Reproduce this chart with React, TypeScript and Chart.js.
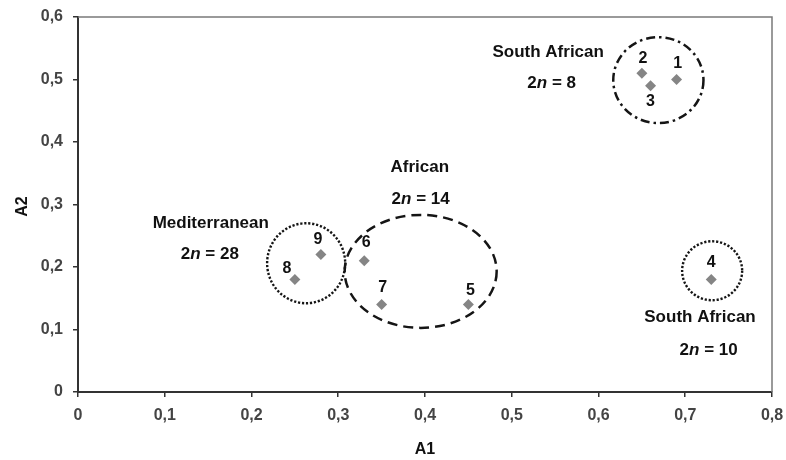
import React, { useEffect, useRef } from 'react';
import { Chart, registerables } from 'chart.js';

Chart.register(...registerables);

// Accessions (point numbers) and their coordinates on the first two axes
const pointIds = ['1', '2', '3', '4', '5', '6', '7', '8', '9'];
const a1Values = [0.69, 0.65, 0.66, 0.73, 0.45, 0.33, 0.35, 0.25, 0.28];
const a2Values = [0.5, 0.51, 0.49, 0.18, 0.14, 0.21, 0.14, 0.18, 0.22];

// Axis ticks
const xTicks = [0, 0.1, 0.2, 0.3, 0.4, 0.5, 0.6, 0.7, 0.8];
const yTicks = [0, 0.1, 0.2, 0.3, 0.4, 0.5, 0.6];

// Groups (ellipses) in data coordinates
const groupNames = ['South African', 'African', 'Mediterranean', 'South African'];
const groupChromosomes = ['8', '14', '28', '10'];
const groupCenterA1 = [0.669, 0.395, 0.263, 0.731];
const groupCenterA2 = [0.499, 0.193, 0.206, 0.194];
const groupRadiusA1 = [0.052, 0.0876, 0.045, 0.0346];
const groupRadiusA2 = [0.0688, 0.0904, 0.064, 0.0472];
const groupLabelA1 = [0.542, 0.394, 0.153, 0.717];
const groupLabelA2 = [0.543, 0.36, 0.27, 0.12];
const groupCountA1 = [0.546, 0.395, 0.152, 0.727];
const groupCountA2 = [0.494, 0.309, 0.221, 0.067];

// styles
const groupDash: number[][] = [[9, 4, 2.5, 4], [10, 6], [2.2, 1.8], [2.2, 1.8]];
const pointLabelOffset: [number, number][] = [
  [1, -16], [1, -15], [0, 16], [0, -17], [2, -14], [2, -18], [1, -17], [-8, -11], [-3, -15],
];

const FONT = '"Liberation Sans", Arial, sans-serif';

const fmt = (v: number) => (v === 0 ? '0' : v.toFixed(1).replace('.', ','));

const annotPlugin = {
  id: 'annot',
  beforeDatasetsDraw(chart: any) {
    const { ctx, chartArea } = chart;
    ctx.save();
    ctx.strokeStyle = '#7a7a7a';
    ctx.lineWidth = 1.5;
    ctx.beginPath();
    ctx.moveTo(chartArea.left, chartArea.top);
    ctx.lineTo(chartArea.right, chartArea.top);
    ctx.lineTo(chartArea.right, chartArea.bottom);
    ctx.stroke();
    ctx.restore();
  },
  afterDatasetsDraw(chart: any) {
    const { ctx, chartArea } = chart;
    const xs = chart.scales.x;
    const ys = chart.scales.y;
    ctx.save();
    // ellipses
    groupNames.forEach((_, i) => {
      const cx = xs.getPixelForValue(groupCenterA1[i]);
      const cy = ys.getPixelForValue(groupCenterA2[i]);
      const rx = Math.abs(xs.getPixelForValue(groupCenterA1[i] + groupRadiusA1[i]) - cx);
      const ry = Math.abs(ys.getPixelForValue(groupCenterA2[i] + groupRadiusA2[i]) - cy);
      ctx.beginPath();
      ctx.setLineDash(groupDash[i]);
      ctx.lineWidth = i >= 2 ? 2.4 : 2.5;
      ctx.strokeStyle = '#151515';
      ctx.ellipse(cx, cy, rx, ry, 0, 0, Math.PI * 2);
      ctx.stroke();
    });
    ctx.setLineDash([]);

    // point labels
    ctx.fillStyle = '#111';
    ctx.font = `bold 16px ${FONT}`;
    ctx.textAlign = 'center';
    ctx.textBaseline = 'middle';
    pointIds.forEach((id, i) => {
      const px = xs.getPixelForValue(a1Values[i]);
      const py = ys.getPixelForValue(a2Values[i]);
      ctx.fillText(id, px + pointLabelOffset[i][0], py + pointLabelOffset[i][1]);
    });

    // group labels
    groupNames.forEach((name, i) => {
      ctx.font = `bold 17px ${FONT}`;
      ctx.textAlign = 'center';
      ctx.fillText(name, xs.getPixelForValue(groupLabelA1[i]), ys.getPixelForValue(groupLabelA2[i]));
      const parts: [string, string][] = [
        ['2', `bold 17px ${FONT}`],
        ['n', `italic bold 17px ${FONT}`],
        [' = ' + groupChromosomes[i], `bold 17px ${FONT}`],
      ];
      let total = 0;
      const widths = parts.map(([t, f]) => {
        ctx.font = f;
        const w = ctx.measureText(t).width;
        total += w;
        return w;
      });
      let x0 = xs.getPixelForValue(groupCountA1[i]) - total / 2;
      const y0 = ys.getPixelForValue(groupCountA2[i]);
      ctx.textAlign = 'left';
      parts.forEach(([t, f], k) => {
        ctx.font = f;
        ctx.fillText(t, x0, y0);
        x0 += widths[k];
      });
    });

    // axis titles
    ctx.font = `bold 16px ${FONT}`;
    ctx.textAlign = 'center';
    ctx.fillText('A1', (chartArea.left + chartArea.right) / 2, 450);
    ctx.save();
    ctx.translate(23, (chartArea.top + chartArea.bottom) / 2 + 2);
    ctx.rotate(-Math.PI / 2);
    ctx.fillText('A2', 0, 0);
    ctx.restore();
    ctx.restore();
  },
};

export default function App() {
  const ref = useRef<HTMLCanvasElement>(null);
  useEffect(() => {
    document.body.style.margin = '0';
    const canvas = ref.current!;
    const chart = new Chart(canvas, {
      type: 'scatter',
      data: {
        datasets: [
          {
            data: a1Values.map((v, i) => ({ x: v, y: a2Values[i] })),
            pointStyle: 'rectRot',
            pointRadius: 5.5,
            backgroundColor: '#858585',
            borderColor: '#858585',
            borderWidth: 0,
          },
        ],
      },
      options: {
        responsive: false,
        animation: false,
        events: [],
        layout: { padding: { top: 17, right: 14, left: 0, bottom: 0 } },
        plugins: { legend: { display: false }, tooltip: { enabled: false } },
        scales: {
          x: {
            type: 'linear',
            min: 0,
            max: 0.8,
            afterFit: (s: any) => { s.height = 68; s.paddingRight = 0; s.paddingLeft = 0; },
            afterBuildTicks: (s: any) => { s.ticks = xTicks.map((v) => ({ value: v })); },
            ticks: {
              callback: (v: any) => fmt(Number(v)),
              color: '#444',
              font: { family: FONT, size: 16, weight: 'bold' },
              padding: 9,
              maxRotation: 0,
              autoSkip: false,
            },
            grid: { display: true, drawOnChartArea: false, drawTicks: true, tickLength: 5, color: '#333', lineWidth: 1.5 },
            border: { display: true, color: '#333', width: 2 },
          },
          y: {
            type: 'linear',
            min: 0,
            max: 0.6,
            afterFit: (s: any) => { s.width = 78; s.paddingTop = 0; s.paddingBottom = 0; },
            afterBuildTicks: (s: any) => { s.ticks = yTicks.map((v) => ({ value: v })); },
            ticks: {
              callback: (v: any) => fmt(Number(v)),
              color: '#444',
              font: { family: FONT, size: 16, weight: 'bold' },
              padding: 10,
              autoSkip: false,
            },
            grid: { display: true, drawOnChartArea: false, drawTicks: true, tickLength: 5, color: '#333', lineWidth: 1.5 },
            border: { display: true, color: '#333', width: 2 },
          },
        },
      },
      plugins: [annotPlugin],
    });
    return () => chart.destroy();
  }, []);
  return (
    <div style={{ width: 786, height: 460 }}>
      <canvas ref={ref} width={786} height={460} />
    </div>
  );
}
